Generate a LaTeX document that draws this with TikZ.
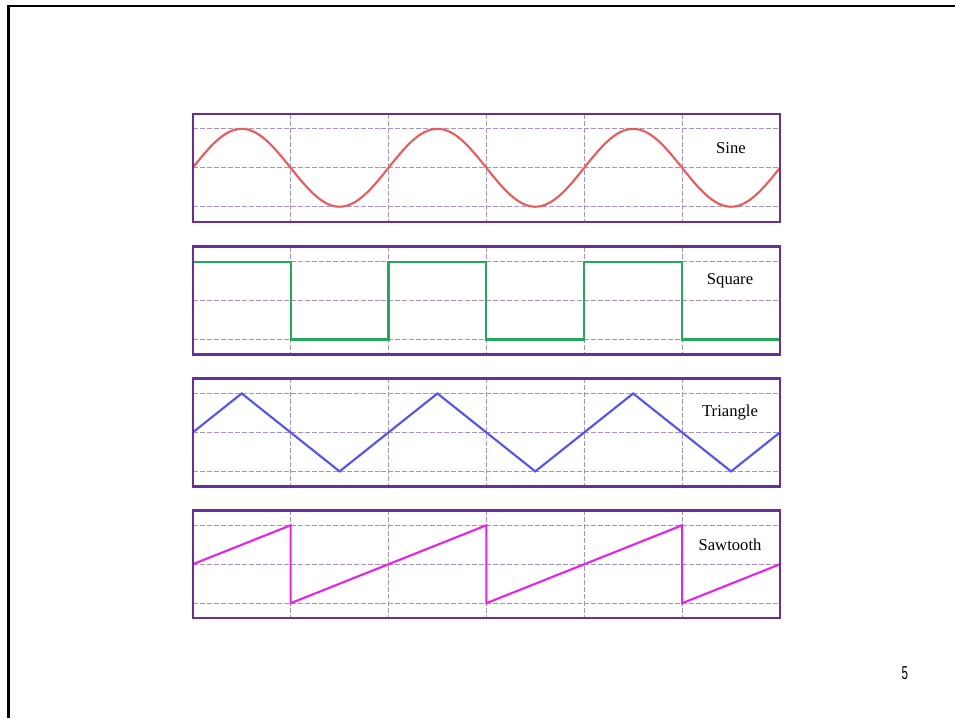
\documentclass[tikz,border=0pt]{standalone}
\usepackage{fontspec}
\setmainfont{Liberation Serif}
\newfontfamily\slidenumfont{Liberation Sans}

\tikzset{every picture/.style={line width=0.75pt}}
\tikzset{
  panel/.style={draw={rgb, 255:red, 106; green, 46; blue, 150 }, line width=1.8pt},
  gridline/.style={draw={rgb, 255:red, 168; green, 146; blue, 192 }, line width=0.6pt, dash pattern=on 3.75pt off 1.5pt},
  wave/.style={line width=1.6pt, line join=miter},
  wavelabel/.style={inner sep=0.75pt, font=\fontsize{12.5}{15}\selectfont},
}

\begin{document}
\begin{tikzpicture}[x=0.75pt,y=0.75pt,yscale=-1,xscale=1]
\path (0,0) rectangle (956,719); %set diagram to the slide size

%Slide frame
\draw [line width=1.9pt] (956,6) -- (8.5,6) -- (8.5,719) ;

%Panel: Sine
\draw [gridline] (193,129) -- (781,129) (193,168) -- (781,168) (193,207) -- (781,207)
  (291,114) -- (291,222) (389,114) -- (389,222) (487,114) -- (487,222) (585,114) -- (585,222) (683,114) -- (683,222) ;
\draw [wave, draw={rgb, 255:red, 232; green, 92; blue, 92 }] (193,168) sin (242,129) cos (291,168) sin (340,207) cos (389,168) sin (438,129) cos (487,168) sin (536,207) cos (585,168) sin (634,129) cos (683,168) sin (732,207) cos (781,168) ;
\draw [panel] (193,114) rectangle (781,222) ;

%Panel: Square
\draw [gridline] (193,262) -- (781,262) (193,301) -- (781,301) (193,340) -- (781,340)
  (291,247) -- (291,355) (389,247) -- (389,355) (487,247) -- (487,355) (585,247) -- (585,355) (683,247) -- (683,355) ;
\draw [wave, draw={rgb, 255:red, 38; green, 168; blue, 88 }] (193,262) -- (291,262) -- (291,340) -- (389,340) -- (389,262) -- (487,262) -- (487,340) -- (585,340) -- (585,262) -- (683,262) -- (683,340) -- (781,340) ;
\draw [panel] (193,247) rectangle (781,355) ;

%Panel: Triangle
\draw [gridline] (193,394) -- (781,394) (193,433) -- (781,433) (193,472) -- (781,472)
  (291,379) -- (291,487) (389,379) -- (389,487) (487,379) -- (487,487) (585,379) -- (585,487) (683,379) -- (683,487) ;
\draw [wave, draw={rgb, 255:red, 84; green, 84; blue, 240 }] (193,433) -- (242,394) -- (340,472) -- (438,394) -- (536,472) -- (634,394) -- (732,472) -- (781,433) ;
\draw [panel] (193,379) rectangle (781,487) ;

%Panel: Sawtooth
\draw [gridline] (193,526) -- (781,526) (193,565) -- (781,565) (193,604) -- (781,604)
  (291,511) -- (291,619) (389,511) -- (389,619) (487,511) -- (487,619) (585,511) -- (585,619) (683,511) -- (683,619) ;
\draw [wave, draw={rgb, 255:red, 230; green, 36; blue, 230 }] (193,565) -- (291,526) -- (291,604) -- (487,526) -- (487,604) -- (683,526) -- (683,604) -- (781,565) ;
\draw [panel] (193,511) rectangle (781,619) ;

% Text Node
\node [wavelabel] (sinelabel) at (732,148) {Sine};
% Text Node
\node [wavelabel] (squarelabel) at (731,281) {Square};
% Text Node
\node [wavelabel] (trianglelabel) at (731,413) {Triangle};
% Text Node
\node [wavelabel] (sawtoothlabel) at (731,546) {Sawtooth};
% Text Node
\node [inner sep=0.75pt, font=\slidenumfont\fontsize{14}{16}\selectfont, xscale=0.62] (slidenum) at (906,674) {5};

\end{tikzpicture}
\end{document}
